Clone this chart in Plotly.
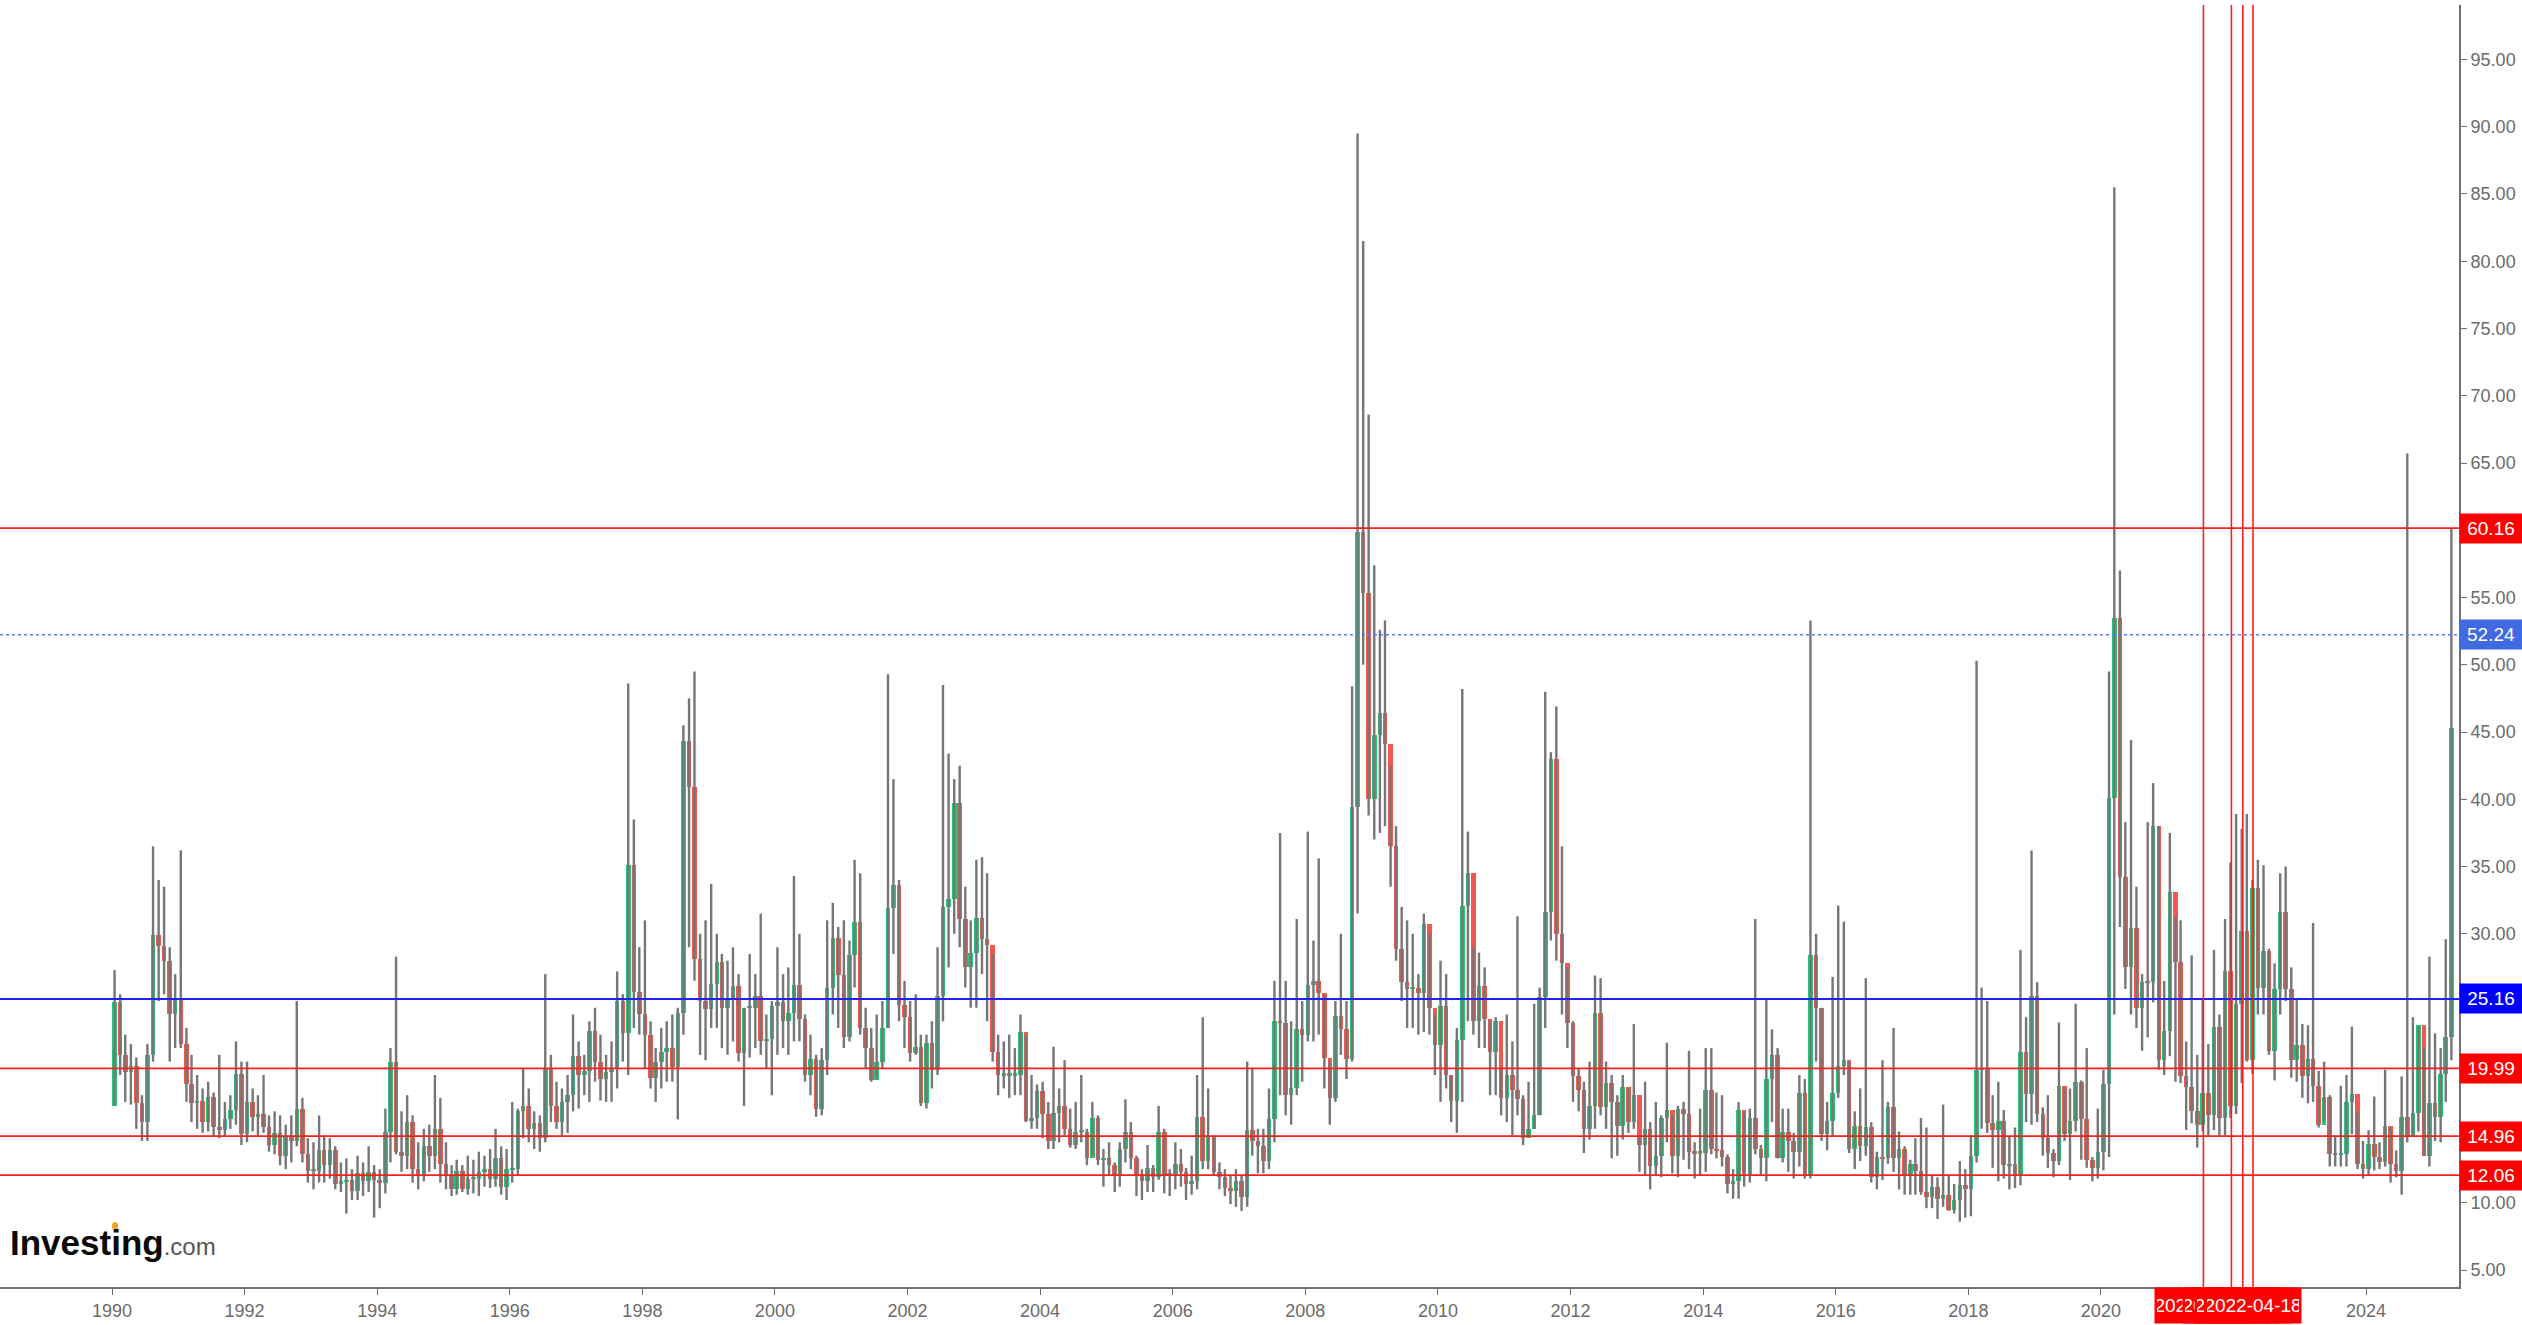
import pandas as pd
import plotly.graph_objects as go

# Monthly VIX candles (Jan 1990 .. Apr 2025), one line per year
open_ = [
 17.2,24.9,21.0,19.7,20.2,17.4,16.0,21.0,29.9,29.1,28.0,24.0,
 25.2,21.8,18.8,17.4,17.6,16.0,17.9,15.6,15.4,16.2,16.9,19.6,
 15.1,17.5,16.4,16.6,15.6,14.3,15.2,13.5,15.0,14.6,17.0,13.6,
 12.4,12.4,13.9,12.8,13.9,11.4,11.6,11.7,10.9,12.2,11.6,12.3,
 11.7,11.5,15.3,20.5,13.8,13.5,16.0,12.5,12.1,14.2,13.5,15.5,
 12.9,12.0,11.0,12.4,11.0,11.8,11.8,12.3,12.5,11.8,13.3,11.2,
 12.5,12.5,16.8,17.2,15.5,15.9,14.8,20.0,17.2,16.0,17.5,18.0,
 20.9,19.5,19.8,22.8,20.5,19.2,19.7,20.0,25.0,22.6,35.1,25.7,
 24.0,22.5,19.3,20.5,21.2,21.5,20.1,24.1,44.3,40.9,28.1,25.0,
 24.4,26.3,27.9,24.5,25.1,26.1,21.1,24.5,24.5,25.4,22.0,22.2,
 24.6,24.9,23.5,24.1,26.2,23.7,19.5,20.7,17.0,20.6,26.0,29.7,
 26.9,22.3,28.4,30.9,23.0,21.5,19.1,20.5,23.0,31.9,33.6,24.7,
 23.8,21.1,21.6,17.4,21.9,19.9,25.4,32.0,32.6,39.7,31.1,27.5,
 28.6,31.2,29.6,29.2,21.2,19.5,19.5,19.5,19.5,22.7,16.1,16.3,
 18.3,16.6,14.6,16.7,17.2,15.5,14.3,15.3,15.3,13.3,16.3,13.2,
 13.3,12.8,12.1,14.0,15.3,13.3,12.0,11.6,12.6,11.9,15.3,12.1,
 12.1,12.9,12.3,11.4,11.6,16.4,13.1,14.9,12.3,11.9,11.1,10.9,
 11.6,10.4,15.4,14.6,14.2,13.1,16.2,23.5,23.4,18.0,18.5,22.9,
 22.5,26.2,26.5,25.6,20.8,17.8,23.9,22.9,20.7,39.4,59.9,55.3,
 40.0,44.8,46.4,44.1,36.5,28.9,26.4,25.9,26.0,25.6,30.7,24.5,
 21.7,24.6,19.5,17.6,22.1,32.1,34.5,23.5,26.1,23.7,21.2,23.5,
 17.8,19.5,18.4,17.7,14.8,15.5,16.5,25.3,31.6,43.0,30.0,27.8,
 23.4,19.4,18.4,15.5,17.2,24.1,17.1,18.9,17.5,15.7,18.6,16.0,
 18.0,14.3,15.5,12.7,13.5,16.3,16.9,13.5,17.0,16.6,13.8,13.7,
 13.7,18.4,14.0,13.9,13.4,11.4,11.6,16.9,12.0,16.3,14.0,13.3,
 19.2,21.0,13.3,15.3,14.6,13.8,18.2,12.1,28.4,24.5,15.1,16.1,
 18.2,20.2,20.6,14.0,15.7,14.2,15.6,11.9,13.4,13.3,17.1,13.3,
 14.0,12.0,12.9,12.4,10.8,10.4,11.2,10.3,10.6,9.5,10.2,11.3,
 11.0,13.5,19.9,20.0,15.9,15.4,16.1,12.8,12.9,12.1,21.2,18.1,
 25.4,16.6,14.8,13.7,13.1,18.7,15.1,16.1,19.0,16.2,13.2,12.6,
 13.8,18.8,40.1,53.5,34.2,27.5,30.4,24.5,26.4,26.4,38.0,20.6,
 22.8,33.1,27.9,19.4,18.6,16.8,15.8,18.2,16.5,23.1,16.3,27.2,
 17.2,24.8,30.2,20.6,33.4,26.0,28.7,21.3,25.9,31.6,25.9,20.6,
 21.7,19.4,20.7,18.7,15.8,17.9,13.6,13.6,13.6,17.5,18.1,12.9,
 12.5,14.4,13.4,13.0,15.7,12.9,12.4,16.4,15.0,16.7,23.2,13.5,
 17.4,16.4,19.6,22.3,
]
high = [
 27.3,25.5,22.5,21.8,20.8,18.0,21.8,36.5,34.0,33.5,29.0,27.0,
 36.2,23.0,21.0,19.5,18.5,19.0,18.2,21.0,17.5,18.0,22.0,20.5,
 20.5,18.5,18.0,19.5,16.5,16.8,16.5,15.8,16.5,25.0,17.8,14.8,
 14.5,16.5,15.0,14.8,14.2,13.0,13.3,12.5,13.5,13.0,14.2,12.8,
 12.5,17.0,21.5,28.3,16.8,18.0,16.5,14.5,15.5,15.8,19.5,17.8,
 14.5,12.8,13.2,12.8,13.5,13.2,13.8,13.5,14.0,15.5,14.2,14.0,
 17.5,17.0,20.0,18.5,16.8,16.5,27.0,21.0,19.0,18.5,19.5,24.0,
 22.0,21.0,23.5,24.5,22.5,21.0,22.0,27.2,25.5,48.6,38.5,29.0,
 31.0,23.5,21.5,23.0,23.5,24.0,24.5,45.5,47.5,49.5,30.0,31.0,
 33.7,30.0,28.5,28.0,29.0,27.0,24.5,28.5,27.0,31.5,24.0,25.0,
 29.0,27.0,27.5,34.3,30.0,24.0,22.5,21.0,21.5,31.0,32.3,30.5,
 31.0,29.5,35.5,34.5,24.5,23.0,24.0,25.0,49.3,41.5,34.0,26.5,
 25.0,25.5,22.5,22.5,23.5,29.0,48.5,43.4,41.5,42.5,33.5,31.0,
 35.5,35.7,34.5,28.5,22.5,22.0,22.5,21.5,24.0,22.5,19.5,18.8,
 19.0,17.5,21.6,18.5,20.6,17.0,17.5,19.5,15.5,17.5,16.5,14.0,
 14.5,13.0,14.5,17.7,16.0,13.5,12.5,14.3,12.8,17.2,15.5,12.5,
 14.5,14.0,12.6,13.5,19.5,23.8,18.5,15.0,13.0,12.5,12.0,12.5,
 12.0,20.5,20.0,15.5,15.5,18.5,26.5,37.5,26.5,23.5,31.1,25.0,
 37.6,29.5,35.6,25.5,20.5,25.0,30.0,25.0,48.4,89.5,81.5,68.6,
 57.4,52.6,53.3,42.5,38.0,32.0,31.0,30.0,27.0,31.5,30.0,24.0,
 28.0,27.0,19.5,23.0,48.2,37.6,29.0,28.6,27.5,23.5,23.8,20.0,
 24.0,22.0,31.3,18.0,19.0,24.8,26.0,48.0,43.5,46.9,36.5,27.5,
 23.5,20.0,19.0,20.5,26.9,26.7,20.5,19.5,18.0,19.5,18.5,23.3,
 15.0,19.0,16.0,17.5,16.5,21.9,16.5,17.2,17.5,21.3,14.5,17.0,
 21.5,21.5,18.2,18.0,13.6,12.5,17.5,16.7,17.0,31.1,14.3,25.2,
 22.9,21.5,17.0,17.0,15.2,19.5,19.2,53.3,30.0,24.5,17.5,26.8,
 32.1,30.9,20.5,16.8,18.5,26.7,16.0,13.8,20.6,17.5,23.0,15.3,
 14.2,13.2,14.8,16.3,15.6,12.0,11.9,17.3,12.0,11.4,13.1,12.5,
 15.0,50.3,26.0,25.0,18.0,19.0,16.9,14.9,15.6,28.8,23.8,36.2,
 26.4,17.1,18.0,14.0,23.4,18.5,18.5,24.8,19.1,21.5,13.4,17.0,
 19.9,49.5,85.5,57.0,38.3,44.4,33.5,27.0,38.3,41.2,38.0,26.5,
 37.5,31.2,31.0,22.0,28.4,21.0,25.1,21.8,28.8,24.0,31.1,35.3,
 38.9,37.8,38.9,34.0,35.5,35.1,28.9,27.8,34.5,35.0,27.5,25.2,
 23.3,23.2,30.8,19.8,20.5,18.0,15.0,18.7,19.5,23.1,16.8,14.6,
 15.4,17.9,14.5,19.9,15.6,13.9,19.4,65.7,23.8,23.1,21.5,28.3,
 22.6,21.5,29.6,60.13,
]
low = [
 17.2,19.5,17.5,17.3,15.5,14.6,14.6,20.5,25.0,25.5,20.5,21.5,
 21.5,17.5,16.0,15.5,15.2,15.3,14.9,14.8,14.9,15.5,15.8,14.3,
 14.5,15.3,15.0,15.2,13.8,13.6,12.8,12.5,13.0,14.2,13.0,11.5,
 11.0,11.5,11.5,11.8,11.0,10.8,9.2,10.2,10.2,10.5,10.8,8.9,
 9.6,10.7,13.0,13.6,12.3,12.5,11.5,11.0,11.6,12.3,12.5,11.5,
 11.0,10.5,10.6,10.8,10.6,10.7,10.5,11.2,11.1,11.2,10.6,10.2,
 11.5,12.0,14.8,14.5,14.0,13.8,14.5,16.0,15.5,15.0,15.2,16.8,
 17.0,18.0,17.5,19.0,17.6,17.5,17.5,18.5,20.5,19.5,23.0,22.5,
 20.0,18.5,17.5,18.5,19.0,19.0,16.2,22.5,29.0,26.5,21.0,20.6,
 23.0,23.0,21.5,21.0,22.0,20.5,17.2,20.8,21.5,21.0,20.0,18.0,
 21.0,21.5,21.0,22.0,22.0,19.0,18.0,16.4,16.5,19.5,24.0,23.0,
 21.5,22.0,26.0,22.5,20.0,19.0,19.2,20.0,23.0,28.5,23.5,21.5,
 20.5,21.0,17.2,17.0,18.5,19.5,23.5,27.5,30.0,29.0,26.0,24.5,
 24.5,27.0,23.5,20.5,18.0,18.5,17.8,18.0,18.0,16.0,15.5,15.5,
 14.8,14.0,14.0,14.5,15.0,14.1,14.0,14.5,12.8,13.5,12.8,11.2,
 12.0,10.8,11.2,13.0,12.5,10.5,10.2,10.8,10.8,11.7,10.7,10.5,
 11.0,11.2,10.2,10.6,11.0,12.5,12.5,12.0,11.0,10.5,9.9,9.7,
 9.4,9.7,13.5,12.2,12.2,12.5,14.5,18.0,16.5,15.8,18.0,19.0,
 22.0,22.0,22.5,18.5,15.8,17.5,21.0,19.2,20.5,31.5,50.0,38.8,
 37.0,37.5,38.0,33.5,28.0,25.0,23.0,23.0,22.5,22.7,22.5,19.5,
 17.5,18.5,16.0,15.2,17.5,23.5,22.5,21.5,21.5,18.0,18.0,16.5,
 16.0,15.0,16.5,14.3,14.9,15.5,16.5,23.0,29.5,28.0,24.0,21.5,
 17.5,16.8,13.7,14.7,15.5,16.5,15.5,13.3,13.5,14.7,15.2,15.5,
 12.3,12.0,11.0,12.0,11.9,14.5,12.2,11.9,13.2,12.5,11.8,12.0,
 12.3,13.6,13.3,12.7,10.7,10.3,10.3,11.2,11.5,13.6,12.1,11.6,
 16.0,13.3,13.0,12.3,11.8,12.7,11.8,11.8,20.5,14.6,13.9,14.9,
 17.8,19.5,13.7,12.5,13.1,13.5,11.5,11.0,11.7,12.9,12.3,11.0,
 10.6,10.6,10.6,10.6,9.6,9.6,8.8,9.7,9.4,9.2,8.6,8.9,
 9.0,13.0,15.5,15.2,12.6,11.6,11.8,11.0,11.1,11.3,16.0,15.8,
 16.0,13.5,12.6,11.9,12.8,14.6,11.7,15.3,13.2,12.6,11.6,11.8,
 12.4,13.4,24.0,30.5,25.9,24.0,23.0,21.3,22.3,24.9,19.9,19.5,
 20.9,19.0,18.9,15.4,15.9,14.1,15.3,15.0,15.4,15.0,15.0,16.3,
 16.6,18.9,20.5,19.6,24.0,24.0,21.0,19.1,24.0,25.0,19.3,19.0,
 17.8,17.4,17.5,15.6,16.1,12.7,12.7,12.7,12.7,15.1,12.5,11.8,
 12.1,12.4,12.5,12.7,11.5,11.9,10.6,14.5,14.9,15.3,13.5,12.7,
 14.6,14.5,17.5,20.6,
]
close = [
 24.9,21.0,19.7,20.2,17.4,16.0,21.0,29.9,29.1,28.0,24.0,25.2,
 21.8,18.8,17.4,17.6,16.0,17.9,15.6,15.4,16.2,16.9,19.6,15.1,
 17.5,16.4,16.6,15.6,14.3,15.2,13.5,15.0,14.6,17.0,13.6,12.4,
 12.4,13.9,12.8,13.9,11.4,11.6,11.7,10.9,12.2,11.6,12.3,11.7,
 11.5,15.3,20.5,13.8,13.5,16.0,12.5,12.1,14.2,13.5,15.5,12.9,
 12.0,11.0,12.4,11.0,11.8,11.8,12.3,12.5,11.8,13.3,11.2,12.5,
 12.5,16.8,17.2,15.5,15.9,14.8,20.0,17.2,16.0,17.5,18.0,20.9,
 19.5,19.8,22.8,20.5,19.2,19.7,20.0,25.0,22.6,35.1,25.7,24.0,
 22.5,19.3,20.5,21.2,21.5,20.1,24.1,44.3,40.9,28.1,25.0,24.4,
 26.3,27.9,24.5,25.1,26.1,21.1,24.5,24.5,25.4,22.0,22.2,24.6,
 24.9,23.5,24.1,26.2,23.7,19.5,20.7,17.0,20.6,26.0,29.7,26.9,
 22.3,28.4,30.9,23.0,21.5,19.1,20.5,23.0,31.9,33.6,24.7,23.8,
 21.1,21.6,17.4,21.9,19.9,25.4,32.0,32.6,39.7,31.1,27.5,28.6,
 31.2,29.6,29.2,21.2,19.5,19.5,19.5,19.5,22.7,16.1,16.3,18.3,
 16.6,14.6,16.7,17.2,15.5,14.3,15.3,15.3,13.3,16.3,13.2,13.3,
 12.8,12.1,14.0,15.3,13.3,12.0,11.6,12.6,11.9,15.3,12.1,12.1,
 12.9,12.3,11.4,11.6,16.4,13.1,14.9,12.3,11.9,11.1,10.9,11.6,
 10.4,15.4,14.6,14.2,13.1,16.2,23.5,23.4,18.0,18.5,22.9,22.5,
 26.2,26.5,25.6,20.8,17.8,23.9,22.9,20.7,39.4,59.9,55.3,40.0,
 44.8,46.4,44.1,36.5,28.9,26.4,25.9,26.0,25.6,30.7,24.5,21.7,
 24.6,19.5,17.6,22.1,32.1,34.5,23.5,26.1,23.7,21.2,23.5,17.8,
 19.5,18.4,17.7,14.8,15.5,16.5,25.3,31.6,43.0,30.0,27.8,23.4,
 19.4,18.4,15.5,17.2,24.1,17.1,18.9,17.5,15.7,18.6,16.0,18.0,
 14.3,15.5,12.7,13.5,16.3,16.9,13.5,17.0,16.6,13.8,13.7,13.7,
 18.4,14.0,13.9,13.4,11.4,11.6,16.9,12.0,16.3,14.0,13.3,19.2,
 21.0,13.3,15.3,14.6,13.8,18.2,12.1,28.4,24.5,15.1,16.1,18.2,
 20.2,20.6,14.0,15.7,14.2,15.6,11.9,13.4,13.3,17.1,13.3,14.0,
 12.0,12.9,12.4,10.8,10.4,11.2,10.3,10.6,9.5,10.2,11.3,11.0,
 13.5,19.9,20.0,15.9,15.4,16.1,12.8,12.9,12.1,21.2,18.1,25.4,
 16.6,14.8,13.7,13.1,18.7,15.1,16.1,19.0,16.2,13.2,12.6,13.8,
 18.8,40.1,53.5,34.2,27.5,30.4,24.5,26.4,26.4,38.0,20.6,22.8,
 33.1,27.9,19.4,18.6,16.8,15.8,18.2,16.5,23.1,16.3,27.2,17.2,
 24.8,30.2,20.6,33.4,26.0,28.7,21.3,25.9,31.6,25.9,20.6,21.7,
 19.4,20.7,18.7,15.8,17.9,13.6,13.6,13.6,17.5,18.1,12.9,12.5,
 14.4,13.4,13.0,15.7,12.9,12.4,16.4,15.0,16.7,23.2,13.5,17.4,
 16.4,19.6,22.3,45.3,
]
first_month = "1990-01-01"

# Drawn levels
red_levels = [60.16, 19.99, 14.96, 12.06]
blue_levels = [25.16]
dotted_levels = [52.24]
vline_dates = ["2021-07-19", "2021-12-20", "2022-02-21", "2022-04-18"]
year_ticks_start = "1990-01-01"

# ---------------------------------------------------------------
UP, DOWN, WICK = "#22c77a", "#f2584f", "#767676"
dates = pd.date_range(first_month, periods=len(close), freq="MS") + pd.Timedelta(days=14)

wx, wy = [], []
for d, h, l in zip(dates, high, low):
    wx += [d, d, None]
    wy += [l, h, None]

base = [min(o, c) for o, c in zip(open_, close)]
height = [max(abs(c - o), 0.12) for o, c in zip(open_, close)]
colors = [UP if c >= o else DOWN for o, c in zip(open_, close)]

fig = go.Figure()
fig.add_trace(go.Scatter(x=wx, y=wy, mode="lines", line=dict(color=WICK, width=2.4),
                         hoverinfo="skip", showlegend=False))
fig.add_trace(go.Bar(x=dates, y=height, base=base, marker=dict(color=colors, line=dict(width=0)),
                     width=25 * 86400000, showlegend=False))

RED = "#ff1e1e"
for v in red_levels:
    fig.add_shape(type="line", xref="paper", x0=0, x1=1, yref="y", y0=v, y1=v,
                  line=dict(color=RED, width=1.6))
for v in blue_levels:
    fig.add_shape(type="line", xref="paper", x0=0, x1=1, yref="y", y0=v, y1=v,
                  line=dict(color="#1f1fff", width=2))
for v in dotted_levels:
    fig.add_shape(type="line", xref="paper", x0=0, x1=1, yref="y", y0=v, y1=v,
                  line=dict(color="#5b7cf0", width=1.5, dash="dot"))
for d in vline_dates:
    fig.add_shape(type="line", xref="x", x0=d, x1=d, yref="paper", y0=0, y1=1,
                  line=dict(color=RED, width=1.6))

label_font = dict(family="Liberation Sans, Arial", size=19, color="white")
for v, col in [(60.16, "#ff0000"), (52.24, "#4169e1"), (25.16, "#0000ff"),
               (19.99, "#ff0000"), (14.96, "#ff0000"), (12.06, "#ff0000")]:
    fig.add_annotation(xref="paper", x=1, xanchor="left", yref="y", y=v, yanchor="middle",
                       text=f"{v:.2f}", showarrow=False, bgcolor=col, font=label_font,
                       width=60, height=27, borderpad=1, align="center")
for d in vline_dates:
    fig.add_annotation(xref="x", x=d, xanchor="center", yref="paper", y=0, yanchor="top",
                       text=d, showarrow=False, bgcolor="#ff0000", font=label_font,
                       width=92, height=31, borderpad=2, align="center")

# Investing.com logo
fig.add_annotation(xref="paper", x=8 / 2459, xanchor="left", yref="paper", y=0.035,
                   yanchor="middle", showarrow=False,
                   text="<b>Investing</b><span style='font-size:24px;color:#555'>.com</span>",
                   font=dict(family="Liberation Sans, Arial", size=35, color="#0a0a0a"))
fig.add_shape(type="circle", xref="paper", yref="paper",
              x0=112 / 2459, x1=118 / 2459, y0=(1287 - 1230) / 1282, y1=(1287 - 1222) / 1282,
              fillcolor="#f7a21b", line=dict(width=0))

x0 = pd.Timestamp(year_ticks_start) - pd.Timedelta(days=617)
x1 = pd.Timestamp(year_ticks_start) + pd.Timedelta(days=12930)
axis_font = dict(family="Liberation Sans, Arial", size=18, color="#6a6a6a")
fig.update_layout(
    width=2522, height=1325, paper_bgcolor="white", plot_bgcolor="white",
    margin=dict(l=0, r=63, t=5, b=38), bargap=0, showlegend=False,
    xaxis=dict(type="date", range=[x0, x1], dtick="M24", tick0=year_ticks_start,
               tickformat="%Y", showgrid=False, zeroline=False, showline=True,
               linecolor="#707070", linewidth=2, ticks="outside", ticklen=6,
               tickcolor="#707070", tickfont=axis_font),
    yaxis=dict(side="right", range=[3.74, 99.05], dtick=5, tick0=5, tickformat=".2f",
               showgrid=False, zeroline=False, showline=True, linecolor="#707070",
               linewidth=2, ticks="outside", ticklen=6, tickcolor="#707070",
               tickfont=axis_font),
)
fig.write_html("out.html", config={"displayModeBar": False},
               post_script="document.body.style.margin='0px';document.body.style.overflow='hidden';")
